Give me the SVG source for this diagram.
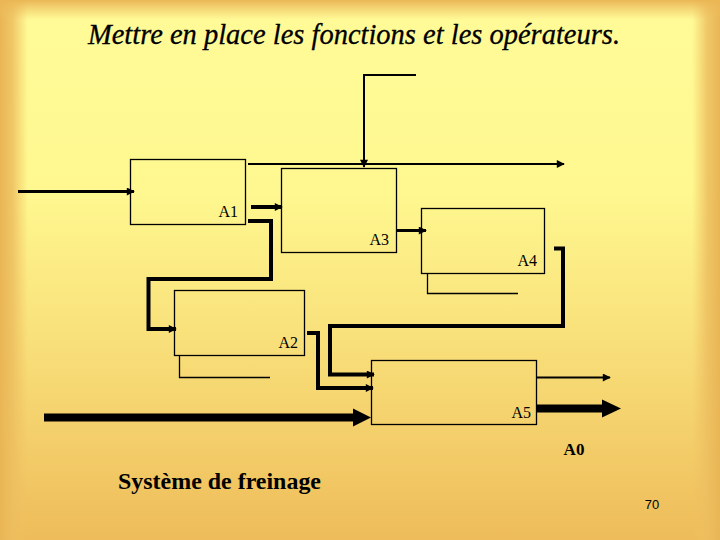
<svg xmlns="http://www.w3.org/2000/svg" width="720" height="540" viewBox="0 0 720 540">
<defs>
<linearGradient id="bg" x1="0" y1="0" x2="0" y2="1">
<stop offset="0" stop-color="#FFFB98"/>
<stop offset="0.35" stop-color="#FFF890"/>
<stop offset="0.65" stop-color="#F8DE78"/>
<stop offset="1" stop-color="#EEBC5A"/>
</linearGradient>
<linearGradient id="edgeL" x1="0" y1="0" x2="1" y2="0">
<stop offset="0" stop-color="#E9B555" stop-opacity="1"/>
<stop offset="0.45" stop-color="#EDBE5E" stop-opacity="0.85"/>
<stop offset="1" stop-color="#F0C060" stop-opacity="0"/>
</linearGradient>
<linearGradient id="edgeR" x1="1" y1="0" x2="0" y2="0">
<stop offset="0" stop-color="#E9B555" stop-opacity="1"/>
<stop offset="0.45" stop-color="#EDBE5E" stop-opacity="0.85"/>
<stop offset="1" stop-color="#F0C060" stop-opacity="0"/>
</linearGradient>
<linearGradient id="edgeT" x1="0" y1="0" x2="0" y2="1">
<stop offset="0" stop-color="#EBB655" stop-opacity="1"/>
<stop offset="1" stop-color="#F0C060" stop-opacity="0"/>
</linearGradient>
<marker id="ah" viewBox="0 0 10 10" refX="9" refY="5" markerWidth="9" markerHeight="8" markerUnits="userSpaceOnUse" orient="auto">
<path d="M0,0 L10,5 L0,10 Z" fill="#000"/>
</marker>
<style>
.box{fill:none;stroke:#000;stroke-width:1.3}
.shadow{fill:none;stroke:#000;stroke-width:1.3}
.c{fill:none;stroke:#000;stroke-linejoin:miter}
.lbl{font-family:"Liberation Serif","Times New Roman",serif;font-size:16px;fill:#000;text-anchor:end}
</style>
</defs>
<rect x="0" y="0" width="720" height="540" fill="url(#bg)"/>
<rect x="0" y="0" width="28" height="540" fill="url(#edgeL)"/>
<rect x="692" y="0" width="28" height="540" fill="url(#edgeR)"/>
<rect x="0" y="0" width="720" height="20" fill="url(#edgeT)"/>

<text x="354" y="44" text-anchor="middle" font-family="Liberation Serif, Times New Roman, serif" font-style="italic" font-size="30" textLength="532" lengthAdjust="spacingAndGlyphs" fill="#000" stroke="#000" stroke-width="0.3">Mettre en place les fonctions et les opérateurs.</text>

<g id="A1"><rect class="box" x="130.5" y="159.5" width="115" height="65"/><text class="lbl" x="238" y="217">A1</text></g>
<g id="A3"><rect class="box" x="281.5" y="168.5" width="115" height="84"/><text class="lbl" x="389" y="245">A3</text></g>
<g id="A4"><rect class="box" x="421.5" y="208.5" width="123" height="65"/><path class="shadow" d="M427.5,273.5 V293.5 H518"/><text class="lbl" x="537" y="266">A4</text></g>
<g id="A2"><rect class="box" x="174.5" y="290.5" width="130" height="65"/><path class="shadow" d="M179.5,355.5 V377.5 H270"/><text class="lbl" x="298" y="348">A2</text></g>
<g id="A5"><rect class="box" x="371.5" y="360.5" width="165" height="64"/><text class="lbl" x="531" y="418">A5</text></g>

<g id="connectors">
<path class="c" stroke-width="3" d="M18,191.5 H134" marker-end="url(#ah)"/>
<path class="c" stroke-width="2" d="M248,164 H564" marker-end="url(#ah)"/>
<path class="c" stroke-width="2" d="M416,75 H364 V167" marker-end="url(#ah)"/>
<path class="c" stroke-width="4" d="M251,207 H282" marker-end="url(#ah)"/>
<path class="c" stroke-width="4" d="M248,221 H271 V279 H148.5 V329 H176" marker-end="url(#ah)"/>
<path class="c" stroke-width="3" d="M397,230.5 H426" marker-end="url(#ah)"/>
<path class="c" stroke-width="4" d="M554,248.5 H563 V326 H330 V374.5 H374" marker-end="url(#ah)"/>
<path class="c" stroke-width="4" d="M307,333 H318 V388 H373" marker-end="url(#ah)"/>
<path class="c" stroke-width="2" d="M537,377.5 H610" marker-end="url(#ah)"/>
<path class="c" stroke-width="8" d="M44,417.5 H355"/>
<polygon points="353,408.5 371,417.5 353,426.5" fill="#000"/>
<path class="c" stroke-width="8" d="M537,408.5 H604"/>
<polygon points="602,399.5 621,408.5 602,417.5" fill="#000"/>
</g>

<text x="574" y="455" text-anchor="middle" font-family="Liberation Serif, Times New Roman, serif" font-weight="bold" font-size="17" fill="#000">A0</text>
<text x="118" y="489" font-family="Liberation Serif, Times New Roman, serif" font-weight="bold" font-size="24" textLength="203" lengthAdjust="spacingAndGlyphs" fill="#000">Système de freinage</text>
<text x="652" y="509" text-anchor="middle" font-family="Liberation Sans, Arial, sans-serif" font-size="13" fill="#000">70</text>
</svg>
